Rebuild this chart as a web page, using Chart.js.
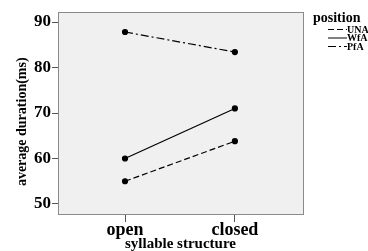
<!DOCTYPE html>
<html lang="en">
<head>
  <meta charset="UTF-8" />
  <title>average duration</title>
  <script src="https://cdn.jsdelivr.net/npm/chart.js"></script>
  <style>
    html, body { margin: 0; padding: 0; background: #fff; }
    #wrap { width: 368px; height: 251px; }
  </style>
</head>
<body>
  <div id="wrap"><canvas id="grafico"></canvas></div>
  <script>
    // datos
    const categorias = ['open', 'closed'];
    const series = ['UNA', 'WfA', 'PfA'];
    const valoresUNA = [55.0, 63.8];
    const valoresWfA = [60.0, 71.0];
    const valoresPfA = [87.8, 83.4];
    const ticksY = [50, 60, 70, 80, 90];

    const FUENTE = '"Liberation Serif", "Times New Roman", serif';
    const estilos = [[6, 3], [], [8, 3, 2, 3]];
    const valores = [valoresUNA, valoresWfA, valoresPfA];

    // fondo gris y marco del area de trazado
    const marco = {
      id: 'marco',
      beforeDraw(chart) {
        const { ctx, chartArea: a } = chart;
        ctx.save();
        ctx.fillStyle = '#f0f0f0';
        ctx.fillRect(a.left, a.top, a.right - a.left, a.bottom - a.top);
        ctx.restore();
      },
      afterDatasetsDraw(chart) {
        const { ctx, chartArea: a } = chart;
        ctx.save();
        ctx.strokeStyle = '#8a8a8a';
        ctx.lineWidth = 1;
        ctx.strokeRect(a.left + 0.5, a.top + 0.5, a.right - a.left, a.bottom - a.top);
        ctx.restore();
      }
    };

    // leyenda a la derecha (se corta en el borde como en el original)
    const leyenda = {
      id: 'leyenda',
      afterDraw(chart) {
        const { ctx } = chart;
        ctx.save();
        ctx.fillStyle = '#000';
        ctx.font = 'bold 14px ' + FUENTE;
        ctx.textBaseline = 'middle';
        ctx.fillText('position', 313, 18);
        ctx.font = 'bold 10px ' + FUENTE;
        chart.data.datasets.forEach((ds, i) => {
          const y = 29 + i * 8.5;
          ctx.strokeStyle = '#000';
          ctx.lineWidth = 1;
          ctx.setLineDash(ds.borderDash || []);
          ctx.beginPath();
          ctx.moveTo(328, y + 0.5);
          ctx.lineTo(347, y + 0.5);
          ctx.stroke();
          ctx.setLineDash([]);
          ctx.fillText(ds.label, 347, y + 1);
        });
        ctx.restore();
      }
    };

    const ctx = document.getElementById('grafico').getContext('2d');
    new Chart(ctx, {
      type: 'line',
      data: {
        datasets: series.map((s, i) => ({
          label: s,
          data: valores[i].map((v, j) => ({ x: j, y: v })),
          borderColor: '#000',
          backgroundColor: '#000',
          borderWidth: 1.2,
          borderDash: estilos[i],
          pointRadius: 2.5,
          pointHoverRadius: 2.5,
          tension: 0
        }))
      },
      options: {
        responsive: true,
        maintainAspectRatio: false,
        animation: false,
        layout: { padding: { top: 12, right: 65, left: 0, bottom: 0 } },
        plugins: {
          legend: { display: false },
          tooltip: { enabled: false }
        },
        scales: {
          x: {
            type: 'linear',
            min: -0.61,
            max: 1.62,
            afterBuildTicks(axis) {
              axis.ticks = categorias.map((c, i) => ({ value: i }));
            },
            afterFit(axis) { axis.height = 37; },
            ticks: {
              autoSkip: false,
              maxRotation: 0,
              padding: -2,
              color: '#000',
              font: { family: FUENTE, size: 18, weight: 'bold' },
              callback: (v) => categorias[v]
            },
            grid: { drawOnChartArea: false, tickLength: 8, color: '#555' },
            border: { display: false },
            title: {
              display: true,
              text: 'syllable structure',
              color: '#000',
              padding: { top: 0, bottom: -1 },
              font: { family: FUENTE, size: 15, weight: 'bold', lineHeight: 1 }
            }
          },
          y: {
            min: 47.8,
            max: 92.2,
            afterBuildTicks(axis) {
              axis.ticks = ticksY.map(v => ({ value: v }));
            },
            afterFit(axis) { axis.width = 58; },
            ticks: {
              padding: 1,
              color: '#000',
              font: { family: FUENTE, size: 17, weight: 'bold' }
            },
            grid: { drawOnChartArea: false, tickLength: 6, color: '#555' },
            border: { display: false },
            title: {
              display: true,
              text: 'average duration(ms)     ',
              color: '#000',
              padding: { top: 15, bottom: 0 },
              font: { family: FUENTE, size: 14, weight: 'bold', lineHeight: 1 }
            }
          }
        }
      },
      plugins: [marco, leyenda]
    });
  </script>
</body>
</html>
